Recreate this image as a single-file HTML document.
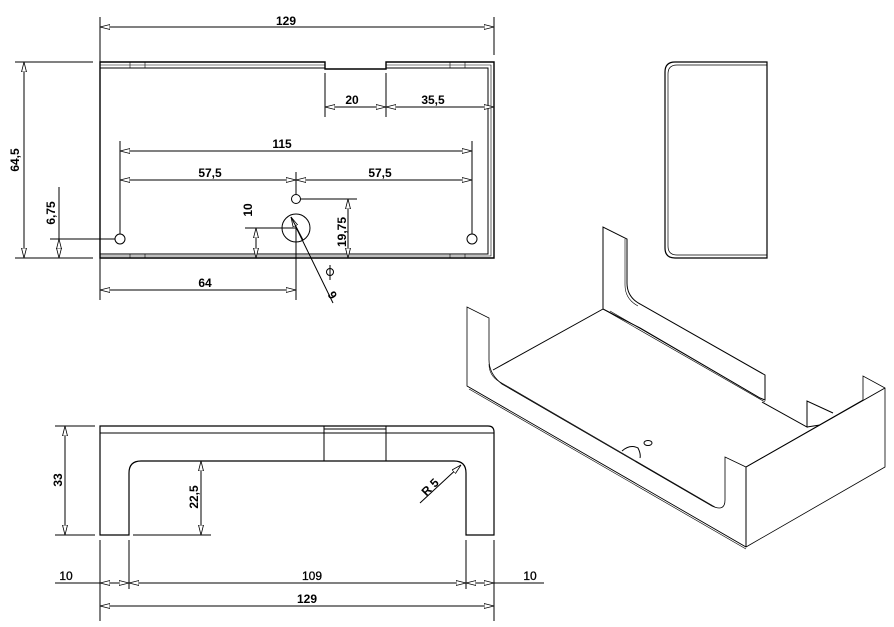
<!DOCTYPE html>
<html><head><meta charset="utf-8"><style>
html,body{margin:0;padding:0;background:#fff;}
svg{display:block;}
text{font-family:"Liberation Sans",sans-serif;font-weight:bold;font-size:12px;fill:#000;}
.o{fill:#fff;stroke:#000;stroke-width:0.8;}
</style></head><body>
<svg width="894" height="627" viewBox="0 0 894 627" xmlns="http://www.w3.org/2000/svg">
<defs>
<marker id="a" viewBox="0 0 10 6" refX="10" refY="3" markerWidth="10" markerHeight="6" markerUnits="userSpaceOnUse" orient="auto-start-reverse">
<path d="M0,0.5 L10,3 L0,5.5 Z" fill="#fff" stroke="#000" stroke-width="0.8"/>
</marker>
</defs>
<g fill="none" stroke="#000" stroke-width="1">
<!-- TOP VIEW -->
<path d="M100,62 H325 V69 H386 V62 H494 V258 H100 Z" stroke-width="1.4"/>
<path d="M100,68 H325 M386,68 H488 V254 H100"/>
<path d="M100,65 H325 M386,65 H491 V256 H100" stroke-width="0.6"/>
<path d="M130,62V68 M145,62V68 M450,62V68 M465,62V68 M130,254V258 M145,254V258 M450,254V258 M465,254V258" stroke-width="0.6"/>
<circle cx="120" cy="239" r="5" fill="#fff"/>
<circle cx="472" cy="239" r="5" fill="#fff"/>
<circle cx="296" cy="199" r="4.5" fill="#fff"/>
<circle cx="296" cy="228" r="14"/>
<path d="M100,17V62 M494,17V55 M15,62H93 M15,258H93 M325,73V117 M386,73V117 M120,141V234 M472,141V234 M296,172V194 M296,228V300 M100,258V300 M245,228H296 M300,199H357 M50,239H115 M59,187V258"/>
<line x1="100" y1="27" x2="494" y2="27" marker-start="url(#a)" marker-end="url(#a)"/>
<line x1="24" y1="62" x2="24" y2="258" marker-start="url(#a)" marker-end="url(#a)"/>
<line x1="325" y1="107" x2="386" y2="107" marker-start="url(#a)" marker-end="url(#a)"/>
<line x1="386" y1="107" x2="494" y2="107" marker-start="url(#a)" marker-end="url(#a)"/>
<line x1="120" y1="151" x2="472" y2="151" marker-start="url(#a)" marker-end="url(#a)"/>
<line x1="120" y1="180" x2="296" y2="180" marker-start="url(#a)" marker-end="url(#a)"/>
<line x1="296" y1="180" x2="472" y2="180" marker-start="url(#a)" marker-end="url(#a)"/>
<line x1="256" y1="228" x2="256" y2="258" marker-start="url(#a)" marker-end="url(#a)"/>
<line x1="348" y1="199" x2="348" y2="258" marker-start="url(#a)" marker-end="url(#a)"/>
<line x1="59" y1="239" x2="59" y2="258" marker-start="url(#a)" marker-end="url(#a)"/>
<line x1="100" y1="290" x2="296" y2="290" marker-start="url(#a)" marker-end="url(#a)"/>
<line x1="333" y1="303" x2="291" y2="217" marker-end="url(#a)"/>
<line x1="303" y1="240" x2="291" y2="217"/>
<circle cx="330" cy="272" r="3.5"/>
<path d="M330,265V280"/>
<!-- END VIEW -->
<path d="M767,62 H675 Q665,62 665,72 V248 Q665,258 675,258 H767 Z" stroke-width="1.2"/>
<path d="M767,65 H677 Q668,65 668,74 V246 Q668,255 677,255 H767" stroke-width="0.7"/>
<!-- FRONT VIEW -->
<path d="M100,535 V426 H488 Q494,426 494,432 V535 H466 V473 Q466,461 454,461 H141 Q129,461 129,473 V535 Z" stroke-width="1.2"/>
<path d="M100,433 H494 M324,426V461 M386,426V461 M324,429H386 M193,461H324" />
<path d="M55,426H95 M55,535H95 M133,535H211 M100,540V621 M129,540V589 M466,540V589 M494,540V621"/>
<line x1="65" y1="426" x2="65" y2="535" marker-start="url(#a)" marker-end="url(#a)"/>
<line x1="201" y1="461" x2="201" y2="535" marker-start="url(#a)" marker-end="url(#a)"/>
<line x1="420" y1="503" x2="461" y2="465" marker-end="url(#a)"/>
<path d="M55,583H100 M494,583H544"/>
<line x1="100" y1="583" x2="129" y2="583" marker-start="url(#a)" marker-end="url(#a)"/>
<line x1="129" y1="583" x2="466" y2="583" marker-start="url(#a)" marker-end="url(#a)"/>
<line x1="466" y1="583" x2="494" y2="583" marker-start="url(#a)" marker-end="url(#a)"/>
<line x1="100" y1="606" x2="494" y2="606" marker-start="url(#a)" marker-end="url(#a)"/>
<!-- ISO VIEW -->
<g stroke-width="1">
<path d="M467,307 V386 L746,547 L885,467 V388 L863,376 V400 L746,467 L725,457 V500 Q725,512 712,506 L502,384 Q489,374 489,360 V318 Z" class="o"/>
<path d="M467,386 L746,547 M469,389 L746,549" stroke-width="0.6"/>
<path d="M746,467 V547 M746,467 L885,388" />
<path d="M489,364 Q489,376 500,382 L715,507" stroke-width="0.6"/>
<path d="M493,370 L603,309 V227 L627,239 V283 Q627,297 640,304 L765,375 V400 L760,398 L640,328 L603,309" />
<path d="M603,309 L765,402 M610,311 L760,398" stroke-width="0.6"/>
<path d="M762,402 L807,427 V401 L833,413 M807,427 L820,425"/>
<path d="M625,239 V285 Q625,299 638,306" stroke-width="0.6"/>
<ellipse cx="648" cy="443" rx="4" ry="2.5"/>
<path d="M622,451 Q630,444 638,448 Q641,454 640,458"/>
</g>
</g>
<text x="286" y="25" text-anchor="middle">129</text>
<text x="352" y="104" text-anchor="middle">20</text>
<text x="433" y="104" text-anchor="middle">35,5</text>
<text x="282" y="148" text-anchor="middle">115</text>
<text x="210" y="177" text-anchor="middle">57,5</text>
<text x="380" y="177" text-anchor="middle">57,5</text>
<text x="205" y="287" text-anchor="middle">64</text>
<text transform="translate(19,160) rotate(-90)" text-anchor="middle">64,5</text>
<text transform="translate(55,213) rotate(-90)" text-anchor="middle">6,75</text>
<text transform="translate(252,210) rotate(-90)" text-anchor="middle">10</text>
<text transform="translate(346,232) rotate(-90)" text-anchor="middle">19,75</text>
<text transform="translate(336,293) rotate(-120)" text-anchor="middle">6</text>
<text transform="translate(62,480) rotate(-90)" text-anchor="middle">33</text>
<text transform="translate(198,497) rotate(-90)" text-anchor="middle">22,5</text>
<text transform="translate(433,490) rotate(-45)" text-anchor="middle">R 5</text>
<text x="66" y="580" text-anchor="middle" style="font-weight:normal;stroke:#000;stroke-width:0.3">10</text>
<text x="312" y="580" text-anchor="middle" style="font-weight:normal;stroke:#000;stroke-width:0.3">109</text>
<text x="530" y="580" text-anchor="middle" style="font-weight:normal;stroke:#000;stroke-width:0.3">10</text>
<text x="307" y="603" text-anchor="middle">129</text>
</svg>
</body></html>
